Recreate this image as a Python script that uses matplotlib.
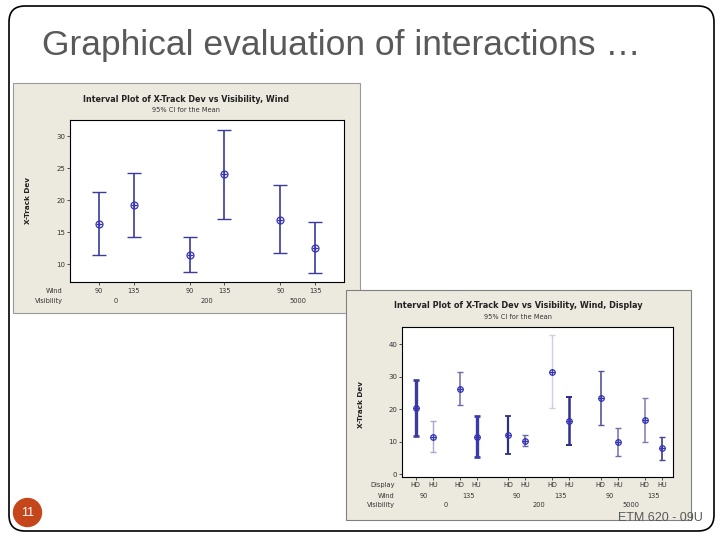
import matplotlib.pyplot as plt
from matplotlib.patches import FancyBboxPatch, Rectangle, Circle
from matplotlib.transforms import blended_transform_factory

# ---- data ----
slide_title = "Graphical evaluation of interactions \u2026"
slide_number = "11"
footer = "ETM 620 - 09U"

title1 = "Interval Plot of X-Track Dev vs Visibility, Wind"
title2 = "Interval Plot of X-Track Dev vs Visibility, Wind, Display"
subtitle = "95% CI for the Mean"
ylabel = "X-Track Dev"

visibility = ["0", "200", "5000"]
wind = ["90", "135"]
display = ["HD", "HU"]

mean1 = [16.2, 19.3, 11.4, 24.0, 16.9, 12.5]
lo1 = [11.4, 14.2, 8.7, 17.0, 11.7, 8.6]
hi1 = [21.2, 24.3, 14.2, 31.0, 22.3, 16.5]

mean2 = [20.5, 11.5, 26.3, 11.6, 12.0, 10.4, 31.4, 16.3, 23.6, 10.0, 16.7, 8.1]
lo2 = [11.8, 6.9, 21.2, 5.5, 6.2, 8.7, 20.3, 9.0, 15.1, 5.7, 9.9, 4.5]
hi2 = [29.0, 16.4, 31.6, 18.1, 17.9, 12.0, 42.7, 23.7, 31.8, 14.2, 23.4, 11.4]

# per-interval line shading in the second plot (Minitab shades them)
colors2 = ['#3c3c9c', '#a8a8d0', '#6c6cac', '#3a3aa8', '#30307e', '#6a6aa6',
           '#cfcfe4', '#2e2e90', '#55559a', '#7070a8', '#7c7cb0', '#4a4a96']
widths2 = [2.4, 1.0, 1.1, 2.4, 1.6, 1.1, 1.0, 1.8, 1.2, 1.1, 1.1, 1.3]

TXT = '#333333'
BEIGE = '#ece9df'
W, H = 720, 540


def group_positions(sizes, gaps):
    """nested grouping -> x positions; sizes/gaps from outer to inner"""
    total = 1
    for s in sizes:
        total *= s
    pos = []
    x = 0.0
    for i in range(total):
        if i > 0:
            step = 1.0
            block = 1
            for lvl in range(len(sizes) - 1, 0, -1):
                block *= sizes[lvl]
                if i % block == 0:
                    step = gaps[lvl - 1]
            x += step
        pos.append(x)
    return pos


def px_axes(fig, left, top, right, bottom):
    return fig.add_axes([left / W, 1 - bottom / H, (right - left) / W, (bottom - top) / H])


fig = plt.figure(figsize=(7.2, 5.4), dpi=100)

bg = fig.add_axes([0, 0, 1, 1])
bg.set_xlim(0, W)
bg.set_ylim(H, 0)
bg.axis('off')

bg.add_patch(FancyBboxPatch((9, 6), 705, 525, boxstyle='round,pad=0,rounding_size=16',
                            facecolor='white', edgecolor='black', lw=1.2))
bg.text(42, 45, slide_title, fontsize=25.5, color='#595959', family='Liberation Sans',
        va='center', ha='left')
bg.add_patch(Circle((27.5, 512.5), 14, color='#c6461b'))
bg.text(27.5, 513, slide_number, color='white', fontsize=9, ha='center', va='center',
        family='Liberation Sans')

# panel backgrounds
bg.add_patch(Rectangle((13, 83), 347, 230, facecolor=BEIGE, edgecolor='#9a9a9a', lw=0.8))
bg.add_patch(Rectangle((346, 290), 345, 230, facecolor=BEIGE, edgecolor='#808080', lw=0.8,
                       zorder=3))


def interval_panel(ax, x, mean, lo, hi, colors, widths, cap, msize):
    for i in range(len(x)):
        ax.errorbar([x[i]], [mean[i]], yerr=[[mean[i] - lo[i]], [hi[i] - mean[i]]],
                    fmt='none', ecolor=colors[i], elinewidth=widths[i], capsize=cap,
                    capthick=max(1.0, widths[i] * 0.8))
    ax.plot(x, mean, 'o', mfc='none', mec='#3434b4', ms=msize, mew=0.9)
    ax.plot(x, mean, '+', color='#3434b4', ms=msize, mew=0.9)
    ax.set_facecolor('white')
    for s in ax.spines.values():
        s.set_linewidth(0.8)
    ax.tick_params(axis='both', length=2.5, width=0.6, labelsize=5, colors=TXT,
                   pad=1)
    ax.set_xticks(x)
    ax.set_xticklabels([])


# ---- panel 1 ----
x1 = group_positions([3, 2], [1.6])
ax1 = px_axes(fig, 70, 120, 344, 282)
ax1.set_zorder(2)
interval_panel(ax1, x1, mean1, lo1, hi1, ['#3b3b9b'] * 6, [1.2] * 6, 4.8, 5)
ax1.set_xlim(-0.82, 7.02)
ax1.set_ylim(7.2, 32.5)
ax1.set_yticks([10, 15, 20, 25, 30])
bg.text(186, 99, title1, fontsize=5.8, fontweight='bold', ha='center', va='center', color='#222222')
bg.text(186, 110, subtitle, fontsize=4.8, ha='center', va='center', color=TXT)
bg.text(28, 201, ylabel, fontsize=5.2, fontweight='bold', rotation=90, ha='center',
        va='center', color='#222222')
tr1 = blended_transform_factory(ax1.transData, bg.transData)
bg.text(63, 291, "Wind", fontsize=4.8, ha='right', va='center', color=TXT)
bg.text(63, 301, "Visibility", fontsize=4.8, ha='right', va='center', color=TXT)
for i, xv in enumerate(x1):
    ax1.text(xv, 291, wind[i % 2], transform=tr1, fontsize=4.8, ha='center', va='center', color=TXT)
for j, v in enumerate(visibility):
    xm = (x1[2 * j] + x1[2 * j + 1]) / 2
    ax1.text(xm, 301, v, transform=tr1, fontsize=4.8, ha='center', va='center', color=TXT)

# ---- panel 2 ----
x2 = group_positions([3, 2, 2], [1.84, 1.57])
ax2 = px_axes(fig, 402.3, 326.7, 673.3, 476.7)
ax2.set_zorder(4)
interval_panel(ax2, x2, mean2, lo2, hi2, colors2, widths2, 2.4, 4)
ax2.set_xlim(-0.78, 15.06)
ax2.set_ylim(-0.7, 45.4)
ax2.set_yticks([0, 10, 20, 30, 40])
fig.text(518 / W, 1 - 306 / H, title2, fontsize=5.9, fontweight='bold', ha='center',
         va='center', color='#222222', zorder=5)
fig.text(518 / W, 1 - 317 / H, subtitle, fontsize=4.8, ha='center', va='center', color=TXT,
         zorder=5)
fig.text(361 / W, 1 - 404 / H, ylabel, fontsize=5.2, fontweight='bold', rotation=90,
         ha='center', va='center', color='#222222', zorder=5)
tr2 = blended_transform_factory(ax2.transData, bg.transData)
for lab, yy in [("Display", 485), ("Wind", 495.5), ("Visibility", 505)]:
    fig.text(395 / W, 1 - yy / H, lab, fontsize=4.8, ha='right', va='center', color=TXT, zorder=5)
for i, xv in enumerate(x2):
    ax2.text(xv, 485, display[i % 2], transform=tr2, fontsize=4.8, ha='center', va='center',
             color=TXT, clip_on=False)
for k in range(6):
    xm = (x2[2 * k] + x2[2 * k + 1]) / 2
    ax2.text(xm, 495.5, wind[k % 2], transform=tr2, fontsize=4.8, ha='center', va='center',
             color=TXT, clip_on=False)
for j, v in enumerate(visibility):
    xm = (x2[4 * j] + x2[4 * j + 3]) / 2
    ax2.text(xm, 505, v, transform=tr2, fontsize=4.8, ha='center', va='center', color=TXT,
             clip_on=False)

fig.text(660 / W, 1 - 518 / H, footer, fontsize=9, color='#595959', ha='center', va='center',
         family='Liberation Sans', zorder=10)

fig.savefig('out.png', dpi=100)
